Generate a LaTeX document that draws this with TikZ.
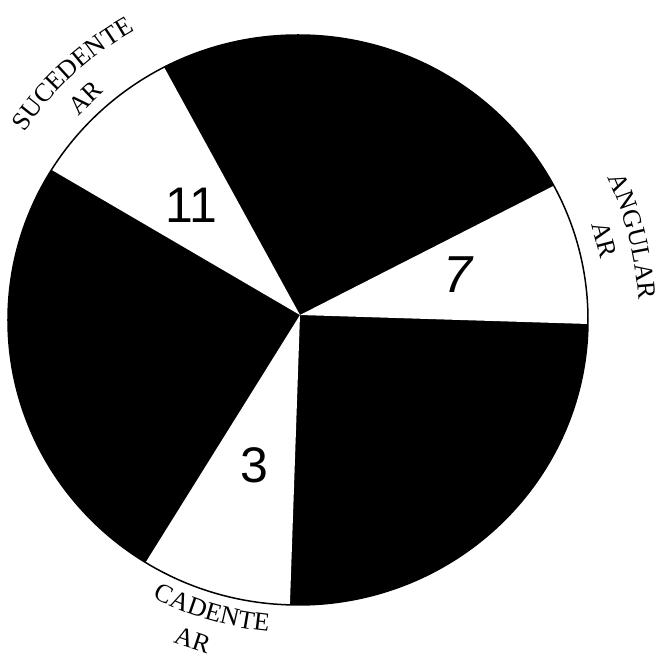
\documentclass[tikz,border=0pt]{standalone}
\usepackage{fontspec}
\usetikzlibrary{decorations.text}
\newfontfamily\labfamily{Liberation Serif}
\newfontfamily\numfamily{Liberation Sans}
\newcommand\labsize{\labfamily\fontsize{26}{26}\selectfont}
\begin{document}
\begin{tikzpicture}[x=1pt,y=1pt,
  labtxt/.style={font=\labsize, inner sep=0pt},
  numtxt/.style={font=\numfamily\fontsize{50}{50}\selectfont, inner sep=0pt},
  wedge/.style={fill=white},
  rim/.style={draw=black, line width=1.5pt},
  curvelab/.style={decorate, decoration={text along path, text={|\labsize|#1}, text align=center}}]
\useasboundingbox (-298,-341) rectangle (364,320);
\coordinate (C) at (0,0);
\coordinate (V) at (2,5);
% dark disc
\fill[black] (C) ellipse [x radius=290, y radius=285];
% white wedges
\fill[wedge] (V) -- (117.5:290 and 285) arc[start angle=117.5, end angle=148.2, x radius=290, y radius=285] -- cycle;
\fill[wedge] (V) -- (-0.8:290 and 285) arc[start angle=-0.8, end angle=28.1, x radius=290, y radius=285] -- cycle;
\fill[wedge] (V) -- (238.3:290 and 285) arc[start angle=238.3, end angle=268.4, x radius=290, y radius=285] -- cycle;
% rim
\draw[rim] (C) ellipse [x radius=290, y radius=285];
% numbers
\node[numtxt] (n11) at (-107,115) {11};
\node[numtxt, font=\numfamily\itshape\fontsize{52}{52}\selectfont] (n7) at (160,45) {7};
\node[numtxt] (n3) at (-44,-145) {3};
% curved labels
\path[curvelab=SUCEDENTE] (152.5:332) arc[start angle=152.5, end angle=112.5, radius=332];
\path[curvelab=ANGULAR] (28.5:341) arc[start angle=28.5, end angle=-0.5, radius=341];
\path[curvelab=CADENTE] (235:313) arc[start angle=235, end angle=272, radius=313];
% AR labels
\node[labtxt, rotate=43.7] (arS) at (133.7:308) {AR};
\node[labtxt, rotate=-75.4] (arA) at (14.6:317) {AR};
\node[labtxt, rotate=-18.2] (arC) at (251.8:337) {AR};
\end{tikzpicture}
\end{document}
